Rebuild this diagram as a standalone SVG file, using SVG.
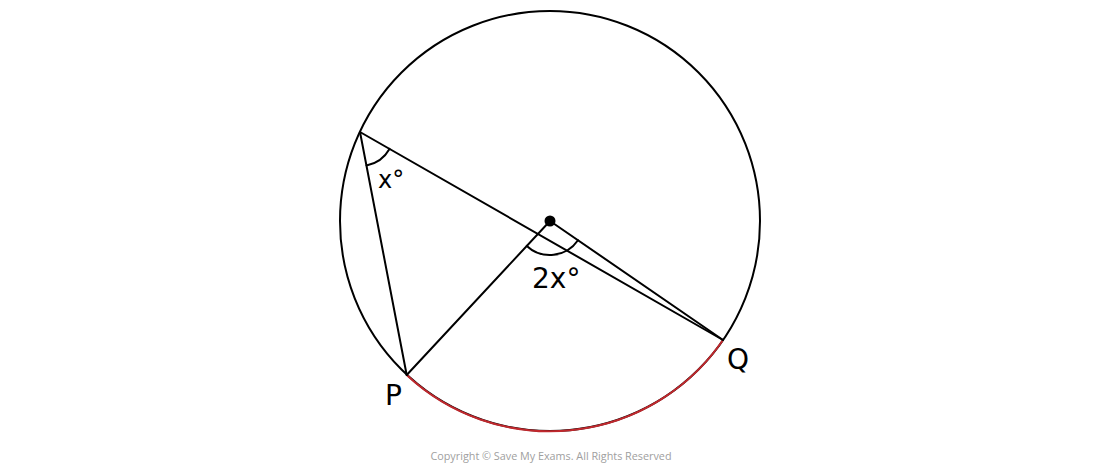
<svg xmlns="http://www.w3.org/2000/svg" width="1100" height="467" viewBox="0 0 1100 467">
<style>
.ln{stroke:#000;stroke-width:2;fill:none;stroke-linecap:round}
.lbl{font-family:"DejaVu Sans","Liberation Sans",sans-serif;fill:#000}
</style>
<rect width="1100" height="467" fill="#fff"/>
<g id="circle">
<circle class="ln" cx="550" cy="221" r="210"/>
<path d="M406.7,375 A210,210 0 0 0 723,340" stroke="#c0282d" stroke-width="2" fill="none"/>
</g>
<g id="connectors">
<line class="ln" x1="360" y1="132" x2="723" y2="340"/>
<line class="ln" x1="360" y1="132" x2="406.7" y2="375"/>
<line class="ln" x1="406.7" y1="375" x2="550" y2="221"/>
<line class="ln" x1="550" y1="221" x2="723" y2="340"/>
<path class="ln" d="M366.5,165.4 A34,34 0 0 0 389.5,148.9"/>
<path class="ln" d="M526.8,245.9 A34,34 0 0 0 578,240.3"/>
</g>
<g id="centre">
<circle cx="550" cy="221" r="5.5" fill="#000"/>
</g>
<g id="labels">
<text class="lbl" x="378" y="188" font-size="24">x°</text>
<text class="lbl" x="532" y="288" font-size="28">2x°</text>
<text class="lbl" x="385" y="405" font-size="28">P</text>
<text class="lbl" x="727" y="369" font-size="28">Q</text>
</g>
<text x="551" y="460" text-anchor="middle" font-family="Open Sans,Liberation Sans,sans-serif" font-size="10.8" fill="#a0a0a0">Copyright © Save My Exams. All Rights Reserved</text>
</svg>
